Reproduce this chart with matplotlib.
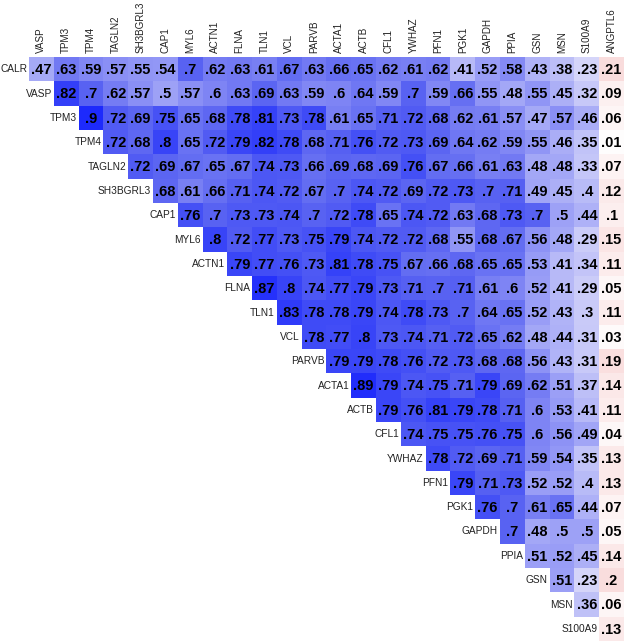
import numpy as np
import matplotlib.pyplot as plt
from matplotlib.colors import LinearSegmentedColormap

plt.rcParams['font.family'] = ['Liberation Sans', 'DejaVu Sans']

cols = ['VASP', 'TPM3', 'TPM4', 'TAGLN2', 'SH3BGRL3', 'CAP1', 'MYL6', 'ACTN1',
        'FLNA', 'TLN1', 'VCL', 'PARVB', 'ACTA1', 'ACTB', 'CFL1', 'YWHAZ', 'PFN1',
        'PGK1', 'GAPDH', 'PPIA', 'GSN', 'MSN', 'S100A9', 'ANGPTL6']
rows = ['CALR', 'VASP', 'TPM3', 'TPM4', 'TAGLN2', 'SH3BGRL3', 'CAP1', 'MYL6',
        'ACTN1', 'FLNA', 'TLN1', 'VCL', 'PARVB', 'ACTA1', 'ACTB', 'CFL1', 'YWHAZ',
        'PFN1', 'PGK1', 'GAPDH', 'PPIA', 'GSN', 'MSN', 'S100A9']

# upper triangle, one list per row (last column ANGPTL6 is negative)
calr = [.47, .63, .59, .57, .55, .54, .7, .62, .63, .61, .67, .63, .66, .65, .62, .61, .62, .41, .52, .58, .43, .38, .23, -.21]
vasp = [.82, .7, .62, .57, .5, .57, .6, .63, .69, .63, .59, .6, .64, .59, .7, .59, .66, .55, .48, .55, .45, .32, -.09]
tpm3 = [.9, .72, .69, .75, .65, .68, .78, .81, .73, .78, .61, .65, .71, .72, .68, .62, .61, .57, .47, .57, .46, -.06]
tpm4 = [.72, .68, .8, .65, .72, .79, .82, .78, .68, .71, .76, .72, .73, .69, .64, .62, .59, .55, .46, .35, -.01]
tagln2 = [.72, .69, .67, .65, .67, .74, .73, .66, .69, .68, .69, .76, .67, .66, .61, .63, .48, .48, .33, -.07]
sh3bgrl3 = [.68, .61, .66, .71, .74, .72, .67, .7, .74, .72, .69, .72, .73, .7, .71, .49, .45, .4, -.12]
cap1 = [.76, .7, .73, .73, .74, .7, .72, .78, .65, .74, .72, .63, .68, .73, .7, .5, .44, -.1]
myl6 = [.8, .72, .77, .73, .75, .79, .74, .72, .72, .68, .55, .68, .67, .56, .48, .29, -.15]
actn1 = [.79, .77, .76, .73, .81, .78, .75, .67, .66, .68, .65, .65, .53, .41, .34, -.11]
flna = [.87, .8, .74, .77, .79, .73, .71, .7, .71, .61, .6, .52, .41, .29, -.05]
tln1 = [.83, .78, .78, .79, .74, .78, .73, .7, .64, .65, .52, .43, .3, -.11]
vcl = [.78, .77, .8, .73, .74, .71, .72, .65, .62, .48, .44, .31, -.03]
parvb = [.79, .79, .78, .76, .72, .73, .68, .68, .56, .43, .31, -.19]
acta1 = [.89, .79, .74, .75, .71, .79, .69, .62, .51, .37, -.14]
actb = [.79, .76, .81, .79, .78, .71, .6, .53, .41, -.11]
cfl1 = [.74, .75, .75, .76, .75, .6, .56, .49, -.04]
ywhaz = [.78, .72, .69, .71, .59, .54, .35, -.13]
pfn1 = [.79, .71, .73, .52, .52, .4, -.13]
pgk1 = [.76, .7, .61, .65, .44, -.07]
gapdh = [.7, .48, .5, .5, -.05]
ppia = [.51, .52, .45, -.14]
gsn = [.51, .23, -.2]
msn = [.36, -.06]
s100a9 = [-.13]

row_vals = [calr, vasp, tpm3, tpm4, tagln2, sh3bgrl3, cap1, myl6, actn1, flna,
            tln1, vcl, parvb, acta1, actb, cfl1, ywhaz, pfn1, pgk1, gapdh, ppia,
            gsn, msn, s100a9]

n = len(cols)
M = np.full((n, n), np.nan)
for i, r in enumerate(row_vals):
    M[i, i:] = r

pts = [(-1, (0.95, 0.35, 0.35)), (-0.2, (0.98, 0.87, 0.87)), (0, (1, 1, 1)),
       (0.23, (0.84, 0.84, 0.98)), (0.41, (0.72, 0.73, 0.97)),
       (0.55, (0.57, 0.59, 0.965)), (0.63, (0.45, 0.48, 0.955)),
       (0.7, (0.35, 0.39, 0.95)), (0.82, (0.2, 0.25, 0.975)),
       (0.9, (0.12, 0.17, 0.99)), (1, (0.05, 0.08, 1))]
cmap = LinearSegmentedColormap.from_list('corr', [((v + 1) / 2, c) for v, c in pts])
cmap.set_bad('white')

fig = plt.figure(figsize=(6.25, 6.42), dpi=100)
ax = fig.add_axes([29 / 625, 1 / 642, 595 / 625, 584 / 642])
ax.imshow(np.ma.masked_invalid(M), cmap=cmap, vmin=-1, vmax=1, aspect='auto',
          interpolation='nearest')
ax.set_xlim(-0.5, n - 0.5)
ax.set_ylim(n - 0.5, -0.5)
ax.axis('off')

for i in range(n):
    for j in range(i, n):
        txt = f"{abs(M[i, j]):.2f}".lstrip('0').rstrip('0')
        ax.text(j, i + 0.03, txt, ha='center', va='center', fontsize=10.5,
                fontweight='bold', color='black')

for i, r in enumerate(rows):
    ax.text(i - 0.58, i, r, ha='right', va='center', fontsize=7.3, color='#222222')
for j, c in enumerate(cols):
    ax.text(j, -0.68, c, ha='center', va='bottom', rotation=90, fontsize=7.1,
            color='#222222')

fig.savefig('out.png', dpi=100)
